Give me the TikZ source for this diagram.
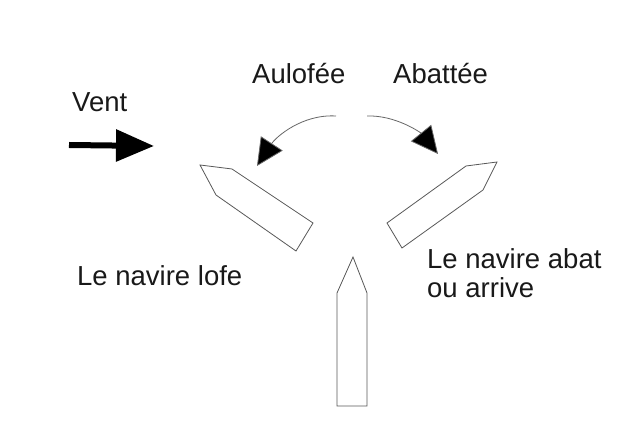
\documentclass[tikz,border=0pt]{standalone}
\usepackage{fontspec}
\setmainfont{Liberation Sans}
\usetikzlibrary{arrows.meta}
\begin{document}
\begin{tikzpicture}[x=1pt,y=-1pt,
  lbl/.style={anchor=base west,inner sep=0pt,font=\fontsize{27.5}{29}\selectfont,text=black!90},
  boat/.style={draw=black!65,line width=0.8pt,line join=miter,fill=white},
  turn/.style={draw=black!60,line width=0.8pt,-{Triangle[length=27pt,width=26pt,fill=black]}},
  wind/.style={draw=black,line width=6pt,-{Triangle[length=38pt,width=31pt]}}]
\useasboundingbox[fill=white] (0,0) rectangle (630,435);
% texts
\node[lbl] (vent) at (72,112) {Vent};
\node[lbl] (aulofee) at (252,84) {Aulofée};
\node[lbl] (abattee) at (393,84) {Abattée};
\node[lbl] (lofe) at (77,286) {Le navire lofe};
\node[lbl,align=left] (abat) at (427,269) {Le navire abat};
\node[lbl] (arrive) at (427,298) {ou arrive};
% wind arrow
\coordinate (w1) at (69,145);
\coordinate (w2) at (154,146);
\draw[wind] (w1) -- (w2);
% turning arrows
\coordinate (l1) at (336,116);
\coordinate (l2) at (257,166);
\draw[turn] (l1) .. controls (302,114) and (276,137) .. (l2);
\coordinate (r1) at (367,116);
\coordinate (r2) at (438,154);
\draw[turn] (r1) .. controls (396,115) and (421,133) .. (r2);
% boats
\draw[boat] (200,165) -- (232,169) -- (313,223) -- (296,251) -- (216,195) -- cycle;
\draw[boat] (497,162) -- (466,166) -- (387,223) -- (402,248) -- (483,190) -- cycle;
\draw[boat] (353,257) -- (367,293) -- (367,406) -- (337,406) -- (337,293) -- cycle;
\end{tikzpicture}
\end{document}
